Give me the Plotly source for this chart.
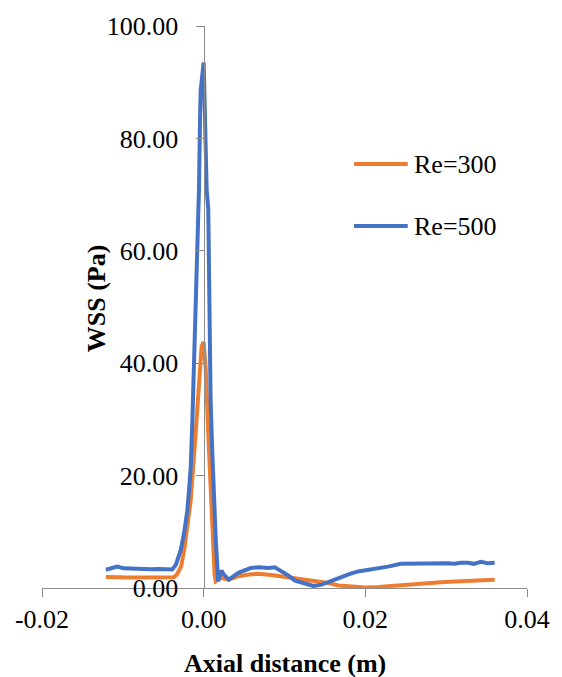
import plotly.graph_objects as go

# Wall shear stress along the axial direction for two Reynolds numbers
x_re300 = [-0.0121, -0.0113, -0.0105, -0.0095, -0.0085, -0.0075, -0.0065, -0.0055,
           -0.0045, -0.0037, -0.0033, -0.0028, -0.0024, -0.0020, -0.0016, -0.0010,
           -0.0005, -0.00025, 0.0, 0.00025, 0.00057, 0.00094, 0.00118, 0.00135,
           0.0015, 0.0021, 0.0031, 0.0043, 0.0056, 0.0068, 0.0084, 0.0101, 0.0117,
           0.0134, 0.0154, 0.0167, 0.0183, 0.0200, 0.0216, 0.0236, 0.0257, 0.0277,
           0.0298, 0.0318, 0.0339, 0.0360]
wss_re300 = [1.95, 2.0, 1.9, 1.85, 1.85, 1.85, 1.85, 1.85,
             1.85, 1.9, 2.4, 3.8, 6.8, 10.9, 15.6, 27.4,
             39.1, 43.0, 43.8, 39.1, 27.4, 15.6, 6.8, 2.4,
             1.2, 1.8, 1.5, 2.1, 2.4, 2.55, 2.3, 2.0, 1.6,
             1.3, 0.9, 0.45, 0.2, 0.1, 0.2, 0.45, 0.65, 0.85,
             1.05, 1.2, 1.35, 1.45]

x_re500 = [-0.0121, -0.0114, -0.0107, -0.0099, -0.0086, -0.0075, -0.0065, -0.0055,
           -0.0043, -0.0039, -0.00345, -0.00283, -0.00242, -0.00202, -0.00181, -0.0016,
           -0.0014, -0.00126, -0.00107, -0.00079, -0.00058, -0.00046, -0.00037, 0.0,
           0.00012, 0.00037, 0.00057, 0.0007, 0.00086, 0.00106, 0.00127, 0.0015,
           0.0018, 0.0022, 0.0025, 0.0031, 0.0043, 0.0058, 0.0068, 0.0080, 0.0088,
           0.0097, 0.0105, 0.0113, 0.0126, 0.0136, 0.0146, 0.0158, 0.0171, 0.0181,
           0.0191, 0.0206, 0.0216, 0.0228, 0.0244, 0.0265, 0.0286, 0.0294, 0.0302,
           0.0310, 0.0318, 0.0327, 0.0334, 0.0343, 0.0351, 0.0360]
wss_re500 = [3.25, 3.5, 3.8, 3.5, 3.4, 3.3, 3.35, 3.4,
             3.3, 3.3, 4.1, 6.8, 9.8, 13.8, 17.4, 21.5,
             29.7, 36.8, 47.4, 59.2, 70.9, 82.7, 88.6, 93.5,
             82.7, 70.9, 67.4, 50.9, 33.3, 24.4, 15.6, 8.5,
             1.2, 3.1, 2.4, 1.5, 2.7, 3.55, 3.7, 3.55, 3.7,
             2.95, 2.2, 1.3, 0.7, 0.35, 0.6, 1.3, 2.1, 2.5,
             2.95, 3.25, 3.55, 3.8, 4.3, 4.4, 4.4, 4.5, 4.4,
             4.3, 4.5, 4.5, 4.3, 4.65, 4.4, 4.5]

series_names = ["Re=300", "Re=500"]
series_colors = ["#ED7D31", "#4472C4"]

x_ticks = [-0.02, 0.0, 0.02, 0.04]
x_tick_labels = ["-0.02", "0.00", "0.02", "0.04"]
y_ticks = [0, 20, 40, 60, 80, 100]
y_tick_labels = ["0.00", "20.00", "40.00", "60.00", "80.00", "100.00"]

FONT = "'Liberation Serif', 'Times New Roman', Times, serif"
AXIS_GREY = "#8C8C8C"

fig = go.Figure()
for xs, ys, name, color in [(x_re300, wss_re300, series_names[0], series_colors[0]),
                            (x_re500, wss_re500, series_names[1], series_colors[1])]:
    fig.add_trace(go.Scatter(x=xs, y=ys, mode="lines", name=name,
                             line=dict(color=color, width=4)))

# Legend drawn as short swatches with labels on the right side of the plot
legend_rows = [0.7544, 0.644]
shapes = []
annotations = []
for name, color, yr in zip(series_names, series_colors, legend_rows):
    shapes.append(dict(type="line", xref="paper", yref="paper",
                       x0=0.6434, x1=0.7541, y0=yr, y1=yr,
                       line=dict(color=color, width=4)))
    annotations.append(dict(xref="paper", yref="paper", x=0.7623, y=yr,
                            xanchor="left", yanchor="middle", text=name,
                            showarrow=False, font=dict(family=FONT, size=26, color="#000")))

annotations.append(dict(xref="paper", yref="paper", x=0.5, y=-0.135,
                        xanchor="center", yanchor="middle",
                        text="<b>Axial distance (m)</b>", showarrow=False,
                        font=dict(family=FONT, size=26, color="#000")))
annotations.append(dict(xref="paper", yref="paper", x=0.1127, y=0.515,
                        xanchor="center", yanchor="middle", textangle=-90,
                        text="<b>WSS (Pa)</b>", showarrow=False,
                        font=dict(family=FONT, size=26, color="#000")))

fig.update_layout(
    width=562, height=677,
    margin=dict(l=42, r=32, t=21.5, b=88.7),
    paper_bgcolor="white", plot_bgcolor="white",
    showlegend=False,
    font=dict(family=FONT, size=26, color="#000"),
    shapes=shapes, annotations=annotations,
    xaxis=dict(range=[-0.02, 0.04], tickvals=x_ticks, ticktext=x_tick_labels,
               showgrid=False, zeroline=False, showline=True,
               linecolor=AXIS_GREY, linewidth=1.3,
               ticks="outside", ticklen=8, tickcolor=AXIS_GREY, tickwidth=1.3,
               tickfont=dict(family=FONT, size=26, color="#000")),
    yaxis=dict(range=[0, 100], tickvals=y_ticks, ticktext=y_tick_labels,
               anchor="free", position=1/3,
               showgrid=False, zeroline=False, showline=True,
               linecolor=AXIS_GREY, linewidth=1.3,
               ticks="outside", ticklen=8, tickcolor=AXIS_GREY, tickwidth=1.3,
               ticklabelstandoff=12,
               tickfont=dict(family=FONT, size=26, color="#000")),
)

fig.write_html("out.html")
